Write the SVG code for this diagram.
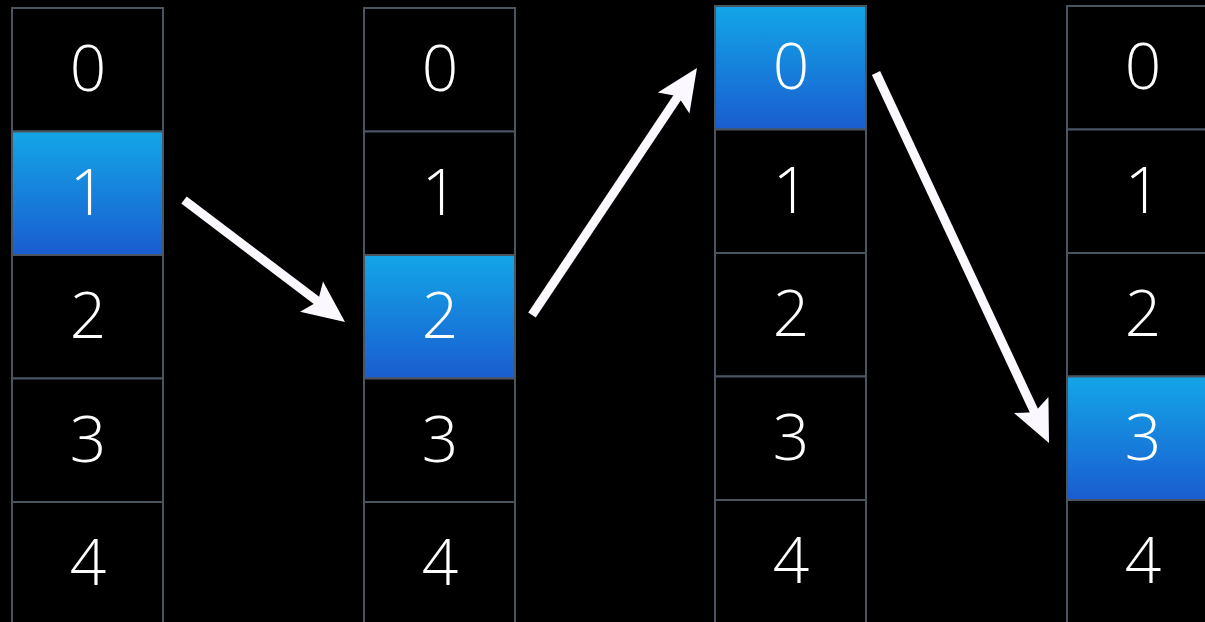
<svg xmlns="http://www.w3.org/2000/svg" width="1205" height="622" viewBox="0 0 1205 622">
<defs>
<linearGradient id="hl" x1="0" y1="0" x2="0" y2="1">
<stop offset="0" stop-color="#13a6e7"/>
<stop offset="1" stop-color="#1a5cd0"/>
</linearGradient>
<marker id="ah" markerUnits="userSpaceOnUse" markerWidth="44" markerHeight="40" refX="12" refY="19" orient="auto" overflow="visible">
<path d="M0,0 L42,19 L0,38 L8,19 Z" fill="#fbf8ff"/>
</marker>
<style>
.c{fill:#000;stroke:#4a5562;stroke-width:2}
.h{fill:url(#hl);stroke:#4a5562;stroke-width:2}
.t{font-family:"Open Sans","DejaVu Sans",sans-serif;font-weight:300;font-size:64px;fill:#fff;text-anchor:middle}
.a{stroke:#fbf8ff;stroke-width:9;fill:none}
</style>
</defs>
<rect width="1205" height="622" fill="#000"/>
<g id="col1">
<rect class="c" x="12" y="8" width="151" height="123.5"/><text class="t" x="88" y="91">0</text>
<rect class="h" x="12" y="131.5" width="151" height="123.5"/><text class="t" x="88" y="214.5">1</text>
<rect class="c" x="12" y="255" width="151" height="123.5"/><text class="t" x="88" y="338">2</text>
<rect class="c" x="12" y="378.5" width="151" height="123.5"/><text class="t" x="88" y="461.5">3</text>
<rect class="c" x="12" y="502" width="151" height="130"/><text class="t" x="88" y="585">4</text>
</g>
<g id="col2">
<rect class="c" x="364" y="8" width="151" height="123.5"/><text class="t" x="440" y="91">0</text>
<rect class="c" x="364" y="131.5" width="151" height="123.5"/><text class="t" x="440" y="214.5">1</text>
<rect class="h" x="364" y="255" width="151" height="123.5"/><text class="t" x="440" y="338">2</text>
<rect class="c" x="364" y="378.5" width="151" height="123.5"/><text class="t" x="440" y="461.5">3</text>
<rect class="c" x="364" y="502" width="151" height="130"/><text class="t" x="440" y="585">4</text>
</g>
<g id="col3">
<rect class="h" x="715" y="6" width="151" height="123.5"/><text class="t" x="791" y="89">0</text>
<rect class="c" x="715" y="129.5" width="151" height="123.5"/><text class="t" x="791" y="212.5">1</text>
<rect class="c" x="715" y="253" width="151" height="123.5"/><text class="t" x="791" y="336">2</text>
<rect class="c" x="715" y="376.5" width="151" height="123.5"/><text class="t" x="791" y="459.5">3</text>
<rect class="c" x="715" y="500" width="151" height="130"/><text class="t" x="791" y="583">4</text>
</g>
<g id="col4">
<rect class="c" x="1067" y="6" width="151" height="123.5"/><text class="t" x="1143" y="89">0</text>
<rect class="c" x="1067" y="129.5" width="151" height="123.5"/><text class="t" x="1143" y="212.5">1</text>
<rect class="c" x="1067" y="253" width="151" height="123.5"/><text class="t" x="1143" y="336">2</text>
<rect class="h" x="1067" y="376.5" width="151" height="123.5"/><text class="t" x="1143" y="459.5">3</text>
<rect class="c" x="1067" y="500" width="151" height="130"/><text class="t" x="1143" y="583">4</text>
</g>
<g id="connectors">
<line class="a" x1="184" y1="200" x2="321.1" y2="303.9" marker-end="url(#ah)"/>
<line class="a" x1="532" y1="315" x2="680.3" y2="93" marker-end="url(#ah)"/>
<line class="a" x1="876" y1="73" x2="1036.3" y2="415.8" marker-end="url(#ah)"/>
</g>
</svg>
